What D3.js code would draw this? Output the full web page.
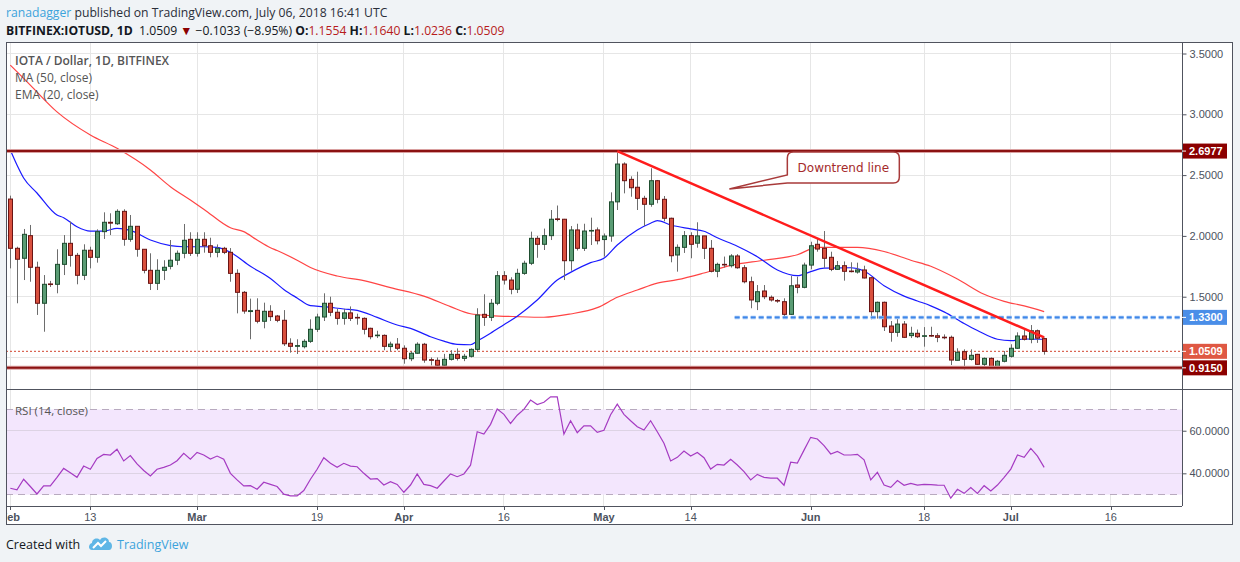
<!DOCTYPE html>
<html><head><meta charset="utf-8">
<script src="https://cdn.jsdelivr.net/npm/d3@7"></script>
<style>
html,body{margin:0;padding:0;background:#f0f3f6;}
svg{display:block;}
</style></head><body>
<svg id="c" width="1240" height="562"></svg>
<script>
// ---------------- DATA ----------------
const startDay = "2018-02-01";
const opens = [2.303,1.898,1.816,2.002,1.742,1.446,1.605,1.602,1.766,1.939,1.84,1.676,1.882,1.824,2.035,2.112,2.1,2.202,1.972,2.079,1.89,1.717,1.61,1.717,1.75,1.80,1.857,1.972,1.857,1.972,1.919,1.865,1.898,1.865,1.692,1.536,1.378,1.388,1.298,1.38,1.341,1.306,1.117,1.092,1.089,1.133,1.232,1.333,1.446,1.372,1.322,1.367,1.33,1.322,1.24,1.18,1.182,1.09,1.11,1.076,0.99,1.035,1.109,0.982,0.977,0.936,0.985,1.026,0.993,1.01,1.067,1.355,1.33,1.446,1.673,1.637,1.561,1.692,1.775,1.98,1.931,2.002,2.14,2.137,1.796,2.049,1.898,2.04,2.049,1.97,1.999,2.28,2.591,2.465,2.40,2.309,2.26,2.454,2.301,2.145,1.843,1.906,2.002,1.94,2.0,1.898,1.709,1.766,1.755,1.835,1.738,1.623,1.459,1.547,1.495,1.469,1.459,1.355,1.596,1.577,1.76,1.931,1.898,1.824,1.725,1.755,1.711,1.703,1.72,1.656,1.377,1.454,1.259,1.207,1.275,1.18,1.199,1.176,1.181,1.179,1.167,1.166,0.977,1.048,0.985,1.026,0.944,0.993,0.92,0.969,1.01,1.076,1.177,1.15,1.22,1.1554];
const highs = [2.331,1.911,2.057,2.09,1.788,1.678,1.63,1.89,2.007,2.117,1.86,1.931,1.911,2.054,2.194,2.186,2.219,2.219,2.172,2.08,1.89,1.857,1.808,1.80,1.966,1.88,2.098,2.03,2.03,2.03,1.985,1.93,1.91,1.90,1.725,1.547,1.484,1.487,1.451,1.43,1.35,1.39,1.158,1.15,1.15,1.314,1.36,1.528,1.50,1.40,1.40,1.42,1.36,1.33,1.245,1.22,1.19,1.13,1.16,1.10,1.05,1.125,1.12,1.0,1.0,1.03,1.06,1.075,1.03,1.075,1.405,1.52,1.481,1.711,1.71,1.66,1.73,1.796,2.035,2.0,2.06,2.213,2.25,2.14,2.081,2.10,2.10,2.15,2.07,2.02,2.358,2.6977,2.605,2.49,2.528,2.33,2.556,2.46,2.328,2.15,1.93,2.04,2.03,2.112,2.0,1.966,1.78,1.83,1.85,1.85,1.76,1.665,1.596,1.596,1.51,1.48,1.487,1.67,1.665,1.78,1.952,1.98,2.04,1.87,1.794,1.79,1.783,1.78,1.755,1.66,1.46,1.46,1.30,1.322,1.30,1.253,1.23,1.25,1.253,1.2,1.19,1.18,1.076,1.067,1.067,1.03,1.0,1.0,0.98,1.053,1.109,1.207,1.24,1.267,1.23,1.164];
const lows = [1.733,1.446,1.637,1.623,1.35,1.212,1.58,1.528,1.678,1.747,1.602,1.637,1.733,1.78,1.975,2.007,2.09,1.919,1.952,1.829,1.692,1.555,1.555,1.637,1.725,1.76,1.816,1.835,1.83,1.862,1.824,1.824,1.85,1.623,1.363,1.36,1.15,1.281,1.24,1.30,1.29,1.095,1.04,1.029,1.075,1.12,1.21,1.30,1.34,1.27,1.27,1.30,1.27,1.19,1.15,1.16,1.06,1.05,1.06,0.949,0.97,1.03,0.957,0.935,0.925,0.93,0.975,0.975,0.97,1.0,1.045,1.26,1.30,1.43,1.60,1.52,1.53,1.68,1.76,1.82,1.884,1.966,2.12,1.637,1.714,1.88,1.876,1.925,1.93,1.83,1.952,2.213,2.35,2.322,2.213,2.081,2.24,2.268,2.12,1.783,1.706,1.86,1.816,1.903,1.81,1.70,1.66,1.74,1.74,1.73,1.61,1.405,1.39,1.48,1.46,1.45,1.34,1.35,1.528,1.569,1.725,1.87,1.738,1.71,1.72,1.632,1.70,1.69,1.65,1.314,1.32,1.218,1.13,1.171,1.16,1.16,1.16,1.089,1.17,1.126,1.15,0.938,0.975,0.897,0.975,0.94,0.924,0.911,0.903,0.96,1.0,1.07,1.14,1.117,1.12,1.0236];
const closes = [1.898,1.808,2.013,1.742,1.446,1.602,1.600,1.766,1.939,1.84,1.676,1.882,1.824,2.035,2.112,2.105,2.202,1.972,2.079,1.89,1.717,1.61,1.717,1.742,1.80,1.857,1.964,1.857,1.972,1.919,1.865,1.898,1.865,1.692,1.536,1.382,1.385,1.298,1.38,1.336,1.306,1.113,1.092,1.098,1.133,1.232,1.333,1.446,1.372,1.322,1.367,1.322,1.325,1.232,1.171,1.184,1.092,1.11,1.076,0.99,1.035,1.109,0.979,0.978,0.936,0.985,1.026,0.993,1.01,1.067,1.349,1.33,1.446,1.673,1.637,1.561,1.692,1.775,1.98,1.931,2.002,2.137,2.137,1.796,2.049,1.898,2.04,2.045,1.96,1.999,2.28,2.591,2.454,2.396,2.309,2.26,2.454,2.301,2.145,1.837,1.906,2.002,1.931,2.0,1.898,1.709,1.766,1.762,1.835,1.738,1.623,1.473,1.541,1.50,1.473,1.465,1.355,1.59,1.577,1.76,1.919,1.892,1.816,1.725,1.755,1.709,1.707,1.72,1.654,1.377,1.454,1.253,1.207,1.275,1.166,1.199,1.171,1.179,1.178,1.166,1.165,0.979,1.043,0.985,1.018,0.944,0.993,0.92,0.969,1.018,1.076,1.177,1.15,1.22,1.1587,1.0509];

const emaDays = [0,1,2,4,7,8,10,12,14,16,18,21,24,26,29,31,33,36,39,41,43,45,47,50,52,55,58,60,63,65,67,69,70,72,74,76,79,82,84,87,89,91,94,96,97,99,102,104,106,109,112,115,118,120,122,126,128,131,134,136,138,140,143,145,148,150,152,155];
const emaValues = [2.706,2.583,2.476,2.353,2.172,2.15,2.076,2.04,2.04,2.062,2.045,1.966,1.92,1.911,1.911,1.905,1.865,1.75,1.65,1.56,1.49,1.426,1.418,1.399,1.388,1.33,1.267,1.24,1.171,1.135,1.108,1.105,1.135,1.20,1.27,1.34,1.473,1.637,1.70,1.78,1.816,1.925,2.049,2.104,2.125,2.09,2.058,2.038,1.985,1.915,1.829,1.72,1.673,1.706,1.735,1.738,1.712,1.59,1.505,1.465,1.425,1.375,1.28,1.222,1.15,1.138,1.152,1.15];

const maDays = [0,3,7,12,16,21,24,27,29,33,35,37,39,40,43,45,49,53,57,62,66,69,72,76,80,84,88,91,94,97,100,104,108,113,118,121,127,131,135,138,142,146,149,152,155];
const maValues = [3.405,3.24,3.02,2.83,2.72,2.542,2.405,2.295,2.22,2.067,2.035,1.966,1.903,1.88,1.80,1.74,1.67,1.632,1.575,1.505,1.418,1.36,1.345,1.336,1.331,1.358,1.41,1.495,1.555,1.612,1.64,1.695,1.758,1.80,1.845,1.906,1.906,1.872,1.80,1.75,1.645,1.52,1.462,1.424,1.377];

const rsiValues = [33.0,32.2,37.2,33.8,30.3,34.1,34.1,38.1,42.3,40.3,38.1,43.4,41.9,47.0,48.9,48.6,51.3,45.8,48.3,44.4,41.3,38.8,41.9,42.8,43.9,45.9,49.4,46.6,49.8,48.6,46.7,48.1,46.6,40.0,36.9,34.1,34.2,32.5,35.8,34.8,33.8,30.2,29.4,29.4,31.9,37.2,41.9,47.3,44.7,42.8,44.7,43.4,43.1,40.0,37.3,37.5,34.5,36.1,34.8,31.1,34.5,39.7,34.8,34.2,33.0,36.4,39.7,38.4,39.7,43.8,59.5,58.4,63.0,70.2,67.7,63.4,67.3,70.0,74.4,72.3,73.4,75.9,75.9,58.4,64.7,59.1,62.3,62.3,59.2,60.2,67.5,72.5,67.7,64.7,61.9,60.3,64.7,59.5,54.1,45.8,47.5,50.5,48.1,49.8,47.3,42.0,44.2,43.9,46.6,43.9,40.8,36.9,39.5,38.1,37.7,37.7,34.4,45.2,44.8,50.9,56.9,56.1,53.0,49.1,50.3,48.6,48.6,48.9,46.3,36.9,40.5,34.5,33.4,36.6,34.4,35.3,34.5,34.8,34.7,34.5,34.4,28.3,32.5,30.6,33.3,30.6,34.2,31.7,34.5,38.1,42.0,48.6,47.5,51.7,48.1,42.8];

const priceTicks = [1.0, 1.5, 2.0, 2.5, 3.0, 3.5];
const priceTickLabels = ["", "1.5000", "2.0000", "2.5000", "3.0000", "3.5000"];
const rsiTicks = [40, 60];
const rsiTickLabels = ["40.0000", "60.0000"];
const timeTickDates = ["2018-02-01","2018-02-13","2018-03-01","2018-03-19","2018-04-01","2018-04-16","2018-05-01","2018-05-14","2018-06-01","2018-06-18","2018-07-01","2018-07-16"];
const timeTickLabels = ["Feb","13","Mar","19","Apr","16","May","14","Jun","18","Jul","16"];
const timeTickBold = [true,false,true,false,true,false,true,false,true,false,true,false];

const resistanceLevel = 2.6977;
const supportLevel = 0.915;
const blueLevel = 1.33;
const blueLevelStartDay = 108.6;
const lastPrice = 1.0509;
const trendDays = [91, 155];
const trendPrices = [2.6977, 1.165];
const calloutText = "Downtrend line";
const calloutTipDay = 107.8, calloutTipPrice = 2.386;

// ---------------- LAYOUT ----------------
const L = 6, R = 1182, OR = 1233, T = 42, MB = 389, RB = 506, BB = 525;
const svg = d3.select("#c");
const t0 = d3.utcParse("%Y-%m-%d")(startDay);
const dayDate = i => new Date(t0.getTime() + i * 86400000);
const x = d3.scaleUtc()
  .domain([new Date(Date.UTC(2018,0,31,8,30)), new Date(Date.UTC(2018,6,26,16,0))])
  .range([L, R]);
const y = d3.scaleLinear().domain([0.741, 3.5946]).range([MB, T]);
const yr = d3.scaleLinear().domain([24.65, 79.6]).range([RB, MB]);

// header
const FONT = "'Open Sans', 'Noto Sans', sans-serif";
const h1 = svg.append("text").attr("x", 6).attr("y", 17).attr("font-family", FONT).attr("font-size", 12.2).attr("fill", "#2a2e39");
h1.append("tspan").attr("fill", "#3ca3dc").text("ranadagger");
h1.append("tspan").text(" published on TradingView.com, July 06, 2018 16:41 UTC");
const h2 = svg.append("text").attr("x", 6).attr("y", 35).attr("font-family", FONT).attr("font-size", 12.2).attr("fill", "#131722");
h2.append("tspan").attr("font-weight", "bold").text("BITFINEX:IOTUSD, 1D");
h2.append("tspan").text("\u00a0 1.0509 ");
h2.append("tspan").attr("fill", "#8b0000").text("\u25bc");
h2.append("tspan").text(" \u22120.1033 (\u22128.95%) ");
const ohlc = [["O:", "1.1554"], ["H:", "1.1640"], ["L:", "1.0236"], ["C:", "1.0509"]];
ohlc.forEach((p, i) => {
  h2.append("tspan").attr("font-weight", "bold").text((i ? " " : "") + p[0]);
  h2.append("tspan").attr("fill", "#b71c1c").text(p[1]);
});

// panel
svg.append("rect").attr("x", L).attr("y", T).attr("width", OR - L).attr("height", BB - T).attr("fill", "#fff");

// clip paths
const defs = svg.append("defs");
defs.append("clipPath").attr("id", "mainClip").append("rect").attr("x", L).attr("y", T).attr("width", R - L).attr("height", MB - T);
defs.append("clipPath").attr("id", "rsiClip").append("rect").attr("x", L).attr("y", MB).attr("width", R - L).attr("height", RB - MB);
defs.append("clipPath").attr("id", "axClip").append("rect").attr("x", L + 1).attr("y", RB).attr("width", R - L).attr("height", BB - RB);

// grid
const tDates = timeTickDates.map(d => d3.utcParse("%Y-%m-%d")(d));
const grid = svg.append("g");
grid.selectAll(".vg").data(tDates).join("line")
  .attr("x1", d => x(d)).attr("x2", d => x(d)).attr("y1", T).attr("y2", RB)
  .attr("stroke", "#e6e6e6").attr("stroke-width", 1).attr("shape-rendering", "crispEdges");
grid.selectAll(".hg").data(priceTicks).join("line")
  .attr("x1", L).attr("x2", R).attr("y1", d => y(d)).attr("y2", d => y(d))
  .attr("stroke", "#e6e6e6").attr("shape-rendering", "crispEdges");

// RSI band
const rsiG = svg.append("g").attr("clip-path", "url(#rsiClip)");
rsiG.append("rect").attr("x", L).attr("width", R - L).attr("y", yr(70)).attr("height", yr(30) - yr(70)).attr("fill", "#f3e6fd");
rsiG.selectAll(".rg").data(rsiTicks).join("line")
  .attr("x1", L).attr("x2", R).attr("y1", d => yr(d)).attr("y2", d => yr(d))
  .attr("stroke", "#ddd3e4").attr("shape-rendering", "crispEdges");
rsiG.selectAll(".rd").data([70, 30]).join("line")
  .attr("x1", L).attr("x2", R).attr("y1", d => yr(d)).attr("y2", d => yr(d))
  .attr("stroke", "#b8aabf").attr("stroke-dasharray", "7,5").attr("shape-rendering", "crispEdges");
rsiG.append("path").datum(rsiValues)
  .attr("d", d3.line().x((d, i) => x(dayDate(i))).y(d => yr(d)))
  .attr("fill", "none").attr("stroke", "#a53bc2").attr("stroke-width", 1.2);

// main pane
const mg = svg.append("g").attr("clip-path", "url(#mainClip)");
const lineGen = d3.line().curve(d3.curveMonotoneX);
mg.append("path").datum(maDays.map((d, i) => [x(dayDate(d)), y(maValues[i])]))
  .attr("d", lineGen).attr("fill", "none").attr("stroke", "#ff3030").attr("stroke-width", 1.2).attr("opacity", 0.9);
mg.append("path").datum(emaDays.map((d, i) => [x(dayDate(d)), y(emaValues[i])]))
  .attr("d", lineGen).attr("fill", "none").attr("stroke", "#1a1aff").attr("stroke-width", 1.2);

// last price dotted line
mg.append("line").attr("x1", L).attr("x2", R).attr("y1", y(lastPrice)).attr("y2", y(lastPrice))
  .attr("stroke", "#d2452f").attr("stroke-dasharray", "2,2").attr("stroke-width", 1);

// candles
const idx = d3.range(opens.length);
const cg = mg.append("g");
cg.selectAll(".wick").data(idx).join("line")
  .attr("x1", i => Math.round(x(dayDate(i))) + 0.5).attr("x2", i => Math.round(x(dayDate(i))) + 0.5)
  .attr("y1", i => y(highs[i])).attr("y2", i => y(lows[i]))
  .attr("stroke", "#6d6d6d").attr("stroke-width", 1);
cg.selectAll(".body").data(idx).join("rect")
  .attr("x", i => Math.round(x(dayDate(i))) - 2 + 0.5)
  .attr("width", 4)
  .attr("y", i => y(Math.max(opens[i], closes[i])))
  .attr("height", i => Math.max(0.6, Math.abs(y(opens[i]) - y(closes[i]))))
  .attr("fill", i => closes[i] >= opens[i] ? "#5a9c74" : "#d9503e")
  .attr("stroke", i => closes[i] >= opens[i] ? "#1e4d2f" : "#6a1414")
  .attr("stroke-width", 1);

// level lines
[resistanceLevel, supportLevel].forEach(v => {
  mg.append("line").attr("x1", L).attr("x2", R).attr("y1", y(v)).attr("y2", y(v)).attr("stroke", "#d9a0a0").attr("stroke-width", 4);
  mg.append("line").attr("x1", L).attr("x2", R).attr("y1", y(v)).attr("y2", y(v)).attr("stroke", "#8b1212").attr("stroke-width", 2);
});
mg.append("line").attr("x1", x(dayDate(blueLevelStartDay))).attr("x2", R).attr("y1", y(blueLevel)).attr("y2", y(blueLevel))
  .attr("stroke", "#9cc3f5").attr("stroke-width", 3.5).attr("stroke-dasharray", "5,3");
mg.append("line").attr("x1", x(dayDate(blueLevelStartDay))).attr("x2", R).attr("y1", y(blueLevel)).attr("y2", y(blueLevel))
  .attr("stroke", "#3f86e8").attr("stroke-width", 1.8).attr("stroke-dasharray", "5,3");

// trend line
mg.append("line")
  .attr("x1", x(dayDate(trendDays[0]))).attr("y1", y(trendPrices[0]))
  .attr("x2", x(dayDate(trendDays[1]))).attr("y2", y(trendPrices[1]))
  .attr("stroke", "#ff1c1c").attr("stroke-width", 2.5);

// callout
const tipX = x(dayDate(calloutTipDay)), tipY = y(calloutTipPrice);
const bx0 = tipX + 58, bx1 = tipX + 170, by0 = tipY - 37, by1 = tipY - 6, rr = 6;
const cp = d3.path();
cp.moveTo(bx0 + rr, by0);
cp.lineTo(bx1 - rr, by0); cp.quadraticCurveTo(bx1, by0, bx1, by0 + rr);
cp.lineTo(bx1, by1 - rr); cp.quadraticCurveTo(bx1, by1, bx1 - rr, by1);
cp.lineTo(bx0, by1);
cp.lineTo(tipX, tipY);
cp.lineTo(bx0, by1 - 8);
cp.lineTo(bx0, by0 + rr); cp.quadraticCurveTo(bx0, by0, bx0 + rr, by0);
cp.closePath();
mg.append("path").attr("d", cp.toString()).attr("fill", "#fff").attr("stroke", "#a83a3a").attr("stroke-width", 1.5);
mg.append("text").attr("x", (bx0 + bx1) / 2).attr("y", (by0 + by1) / 2 + 4.5).attr("text-anchor", "middle")
  .attr("font-family", "'DejaVu Sans', Verdana, sans-serif").attr("font-size", 12).attr("fill", "#a52a2a").text(calloutText);

// legend
const lg = svg.append("g").attr("font-family", FONT).attr("fill", "#555");
lg.append("text").attr("x", 15).attr("y", 65).attr("font-size", 12).attr("font-weight", 600).text("IOTA / Dollar, 1D, BITFINEX");
lg.append("text").attr("x", 15).attr("y", 82).attr("font-size", 12).text("MA (50, close)");
lg.append("text").attr("x", 15).attr("y", 99).attr("font-size", 12).text("EMA (20, close)");
svg.append("text").attr("x", 15).attr("y", 415).attr("font-family", FONT).attr("font-size", 11.5).attr("fill", "#555").text("RSI (14, close)");

// frame lines
const fr = svg.append("g").attr("stroke", "#50535e").attr("shape-rendering", "crispEdges").attr("fill", "none");
fr.append("rect").attr("x", L + 0.5).attr("y", T + 0.5).attr("width", OR - L - 1).attr("height", BB - T - 1);
fr.append("line").attr("x1", R + 0.5).attr("x2", R + 0.5).attr("y1", T).attr("y2", RB);
fr.append("line").attr("x1", L).attr("x2", OR).attr("y1", MB + 0.5).attr("y2", MB + 0.5);
fr.append("line").attr("x1", L).attr("x2", R).attr("y1", RB + 0.5).attr("y2", RB + 0.5);

// price axis
const AXF = "'Liberation Sans', Arial, sans-serif";
const pa = svg.append("g").attr("transform", `translate(${R + 0.5},0)`)
  .call(d3.axisRight(y).tickValues(priceTicks.slice(1)).tickSize(4).tickFormat((d, i) => priceTickLabels[i + 1]));
pa.select(".domain").remove();
pa.selectAll("line").attr("stroke", "#50535e");
pa.selectAll("text").attr("font-family", AXF).attr("font-size", 11).attr("fill", "#4c525e").attr("x", 7);
const ra = svg.append("g").attr("transform", `translate(${R + 0.5},0)`)
  .call(d3.axisRight(yr).tickValues(rsiTicks).tickSize(4).tickFormat((d, i) => rsiTickLabels[i]));
ra.select(".domain").remove();
ra.selectAll("line").attr("stroke", "#50535e");
ra.selectAll("text").attr("font-family", AXF).attr("font-size", 11).attr("fill", "#4c525e").attr("x", 7);

// price labels
const tags = [
  [resistanceLevel, "2.6977", "#8b0000"],
  [blueLevel, "1.3300", "#4a8ee8"],
  [lastPrice, "1.0509", "#df5843"],
  [supportLevel, "0.9150", "#8b0000"]
];
tags.forEach(t => {
  const yy = y(t[0]);
  svg.append("rect").attr("x", R + 1).attr("y", yy - 7.5).attr("width", 44).attr("height", 15).attr("fill", t[2]);
  svg.append("line").attr("x1", R).attr("x2", R + 4).attr("y1", yy).attr("y2", yy).attr("stroke", "#fff");
  svg.append("text").attr("x", R + 7).attr("y", yy + 4).attr("font-family", AXF).attr("font-size", 11).attr("font-weight", "bold")
    .attr("fill", "#fff").text(t[1]);
});

// time axis
const ta = svg.append("g");
ta.selectAll(".tk").data(tDates).join("line")
  .attr("x1", d => Math.round(x(d)) + 0.5).attr("x2", d => Math.round(x(d)) + 0.5).attr("y1", RB).attr("y2", RB + 4)
  .attr("stroke", "#50535e");
ta.append("g").attr("clip-path", "url(#axClip)").selectAll("text").data(tDates).join("text")
  .attr("x", d => x(d)).attr("y", 521).attr("text-anchor", "middle")
  .attr("font-family", AXF).attr("font-size", 11).attr("fill", "#4c525e")
  .attr("font-weight", (d, i) => timeTickBold[i] ? "bold" : "normal")
  .text((d, i) => timeTickLabels[i]);

// footer
svg.append("text").attr("x", 6).attr("y", 549).attr("font-family", FONT).attr("font-size", 12.5).attr("fill", "#131722").text("Created with");
const logo = svg.append("g").attr("transform", "translate(88,536)");
logo.append("path").attr("d", "M4,14 C0,14 0,8 4,7 C4,3 9,1 12,4 C14,0 21,1 21,6 C25,6 25,14 21,14 Z").attr("fill", "#5fb6e6");
logo.append("path").attr("d", "M5,12 L10,7 L13,10 L18,5").attr("fill", "none").attr("stroke", "#fff").attr("stroke-width", 2);
svg.append("text").attr("x", 117).attr("y", 549).attr("font-family", FONT).attr("font-size", 12.5).attr("fill", "#3ca3dc").text("TradingView");
</script>
</body></html>
